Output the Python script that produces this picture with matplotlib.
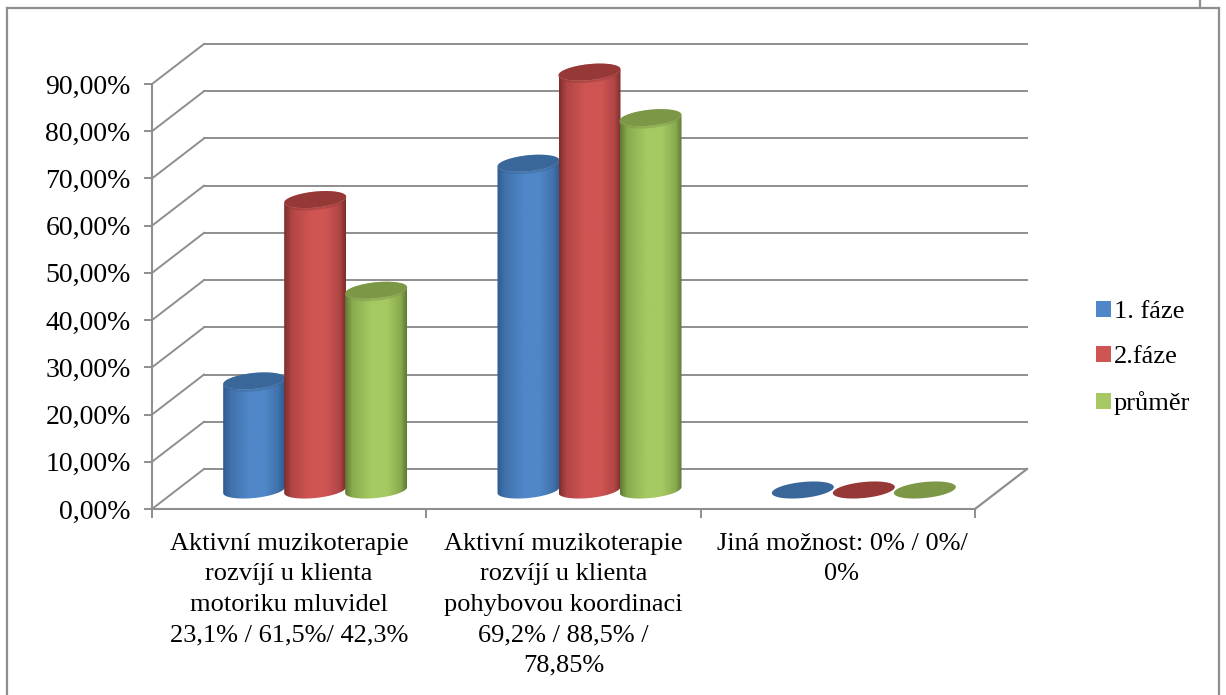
import numpy as np
from matplotlib import pyplot as plt
from matplotlib.lines import Line2D
from matplotlib.patches import PathPatch, Patch
from matplotlib.path import Path
from matplotlib.colors import LinearSegmentedColormap

plt.rcParams['font.family'] = ['Liberation Serif', 'DejaVu Serif']

series_names = ['1. fáze', '2.fáze', 'průměr']
phase1 = [23.1, 69.2, 0]
phase2 = [61.5, 88.5, 0]
average = [42.3, 78.85, 0]
categories = [
    'Aktivní muzikoterapie\nrozvíjí u klienta\nmotoriku mluvidel\n23,1% / 61,5%/ 42,3%',
    'Aktivní muzikoterapie\nrozvíjí u klienta\npohybovou koordinaci\n69,2% / 88,5% /\n78,85%',
    'Jiná možnost: 0% / 0%/\n0%',
]
y_ticks = [0, 10, 20, 30, 40, 50, 60, 70, 80, 90]

W, H = 1226, 695
GREY = '#8e8e8e'
# edge, shoulder, centre, top cap
colors = [('#2f5b8f', '#4071ab', '#5087c8', '#3a6799'),
          ('#7c2d2c', '#b04645', '#cf5553', '#963836'),
          ('#5f7a34', '#8aab4e', '#a6c963', '#7c9745')]

# front plane of the 3d box, in pixels
LEFT, RIGHT, BOTTOM, TOP = 152, 975, 509, 84
PX_X = 3 / (RIGHT - LEFT)
PX_Y = 90 / (BOTTOM - TOP)
DEPTH_X = 52 * PX_X
DEPTH_Y = 40 * PX_Y
BAR_STEP = 61 * PX_X
BAR_A = 31 * PX_X    # half width of the cylinder
BAR_B = 8 * PX_Y     # half height of the cap
BAR_S = 3 * PX_Y     # tilt of the cap
RIM = 2.5 * PX_Y     # soft band under the cap
BASE = 19 * PX_Y     # bars stand about mid depth

fig = plt.figure(figsize=(W / 100, H / 100), dpi=100)
ax = fig.add_axes([LEFT / W, 1 - BOTTOM / H, (RIGHT - LEFT) / W, (BOTTOM - TOP) / H])
ax.patch.set_alpha(0)


def ellipse_pts(cx, cy, t, b=BAR_B):
    return cx + BAR_A * np.cos(t), cy + b * np.sin(t) + BAR_S * np.cos(t)


def draw_bar(cx, value, col, z):
    top = BASE + value
    t = np.linspace(0, 2 * np.pi, 80)
    if value > 0:
        tb = np.linspace(np.pi, 2 * np.pi, 40)
        xb, yb = ellipse_pts(cx, BASE, tb)
        tt = np.linspace(2 * np.pi, np.pi, 40)
        xt, yt = ellipse_pts(cx, top, tt)
        verts = np.column_stack([np.r_[xb, xt, xb[0]], np.r_[yb, yt, yb[0]]])
        codes = [Path.MOVETO] + [Path.LINETO] * (len(verts) - 2) + [Path.CLOSEPOLY]
        body = PathPatch(Path(verts, codes), fc='none', ec='none', zorder=z)
        ax.add_patch(body)
        cmap = LinearSegmentedColormap.from_list(
            'cyl', [(0, col[0]), (0.12, col[1]), (0.42, col[2]), (0.68, col[2]),
                    (0.9, col[1]), (1, col[0])])
        grad = np.linspace(0, 1, 128).reshape(1, -1)
        im = ax.imshow(grad, cmap=cmap, aspect='auto', zorder=z,
                       extent=[cx - BAR_A, cx + BAR_A, BASE - BAR_B - BAR_S, top + BAR_B + BAR_S])
        im.set_clip_box(fig.bbox)
        im.set_clip_path(body)
        xr, yr = ellipse_pts(cx, top - RIM / 2, t, BAR_B + RIM / 2)
        ax.fill(xr, yr, color=col[3], alpha=0.45, lw=0, zorder=z + 0.05, clip_on=False)
    xc, yc = ellipse_pts(cx, top, t)
    ax.fill(xc, yc, color=col[3], lw=0, zorder=z + 0.1, clip_on=False)


# back wall and left side lines
for v in y_ticks:
    ax.plot([0, DEPTH_X], [v, v + DEPTH_Y], color=GREY, lw=1.4, clip_on=False, zorder=1)
    ax.plot([DEPTH_X, 3 + DEPTH_X], [v + DEPTH_Y, v + DEPTH_Y], color=GREY, lw=1.4,
            clip_on=False, zorder=1)
ax.plot([3, 3 + DEPTH_X], [0, DEPTH_Y], color=GREY, lw=1.6, clip_on=False, zorder=1)

all_series = [phase1, phase2, average]
for i, vals in enumerate(all_series):
    for c, v in enumerate(vals):
        cx = c + 0.5 + DEPTH_X / 2 + (i - 1) * BAR_STEP
        draw_bar(cx, v, colors[i], 3 + i)

ax.set_xlim(0, 3)
ax.set_ylim(0, 90)

for s in ['top', 'right']:
    ax.spines[s].set_visible(False)
for s in ['left', 'bottom']:
    ax.spines[s].set_color(GREY)
    ax.spines[s].set_linewidth(1.5)

ax.set_yticks(y_ticks)
ax.set_yticklabels([f'{v:.2f}'.replace('.', ',') + '%' for v in y_ticks], fontsize=20)
ax.tick_params(axis='y', length=5.8, width=1.4, color=GREY, pad=9.5, labelcolor='black')
ax.set_xticks([0, 1, 2, 3])
ax.set_xticklabels([])
ax.tick_params(axis='x', length=6.5, width=1.4, color=GREY)

for c, label in enumerate(categories):
    dx = 3 if c == 2 else 0
    ax.annotate(label, xy=(c + 0.5, 0), xytext=(dx, -17), textcoords='offset points',
                ha='center', va='top', fontsize=19, linespacing=1.5)

handles = [Patch(fc=colors[i][2], ec='none', label=series_names[i]) for i in range(3)]
ax.legend(handles=handles, loc='center left', bbox_to_anchor=(1096 / W, 1 - 358 / H),
          bbox_transform=fig.transFigure, frameon=False, fontsize=19,
          handlelength=0.55, handleheight=0.55, handletextpad=0.13, labelspacing=0.87,
          borderpad=0, borderaxespad=0)

# outer frame
frame = [([7, 7], [695, 8]), ([7, 1219], [8, 8]), ([1219, 1219], [8, 695]), ([1200, 1200], [0, 8])]
for xs, ys in frame:
    fig.add_artist(Line2D([x / W for x in xs], [1 - y / H for y in ys], color=GREY, lw=1.6))

fig.savefig('out.png', dpi=100)
